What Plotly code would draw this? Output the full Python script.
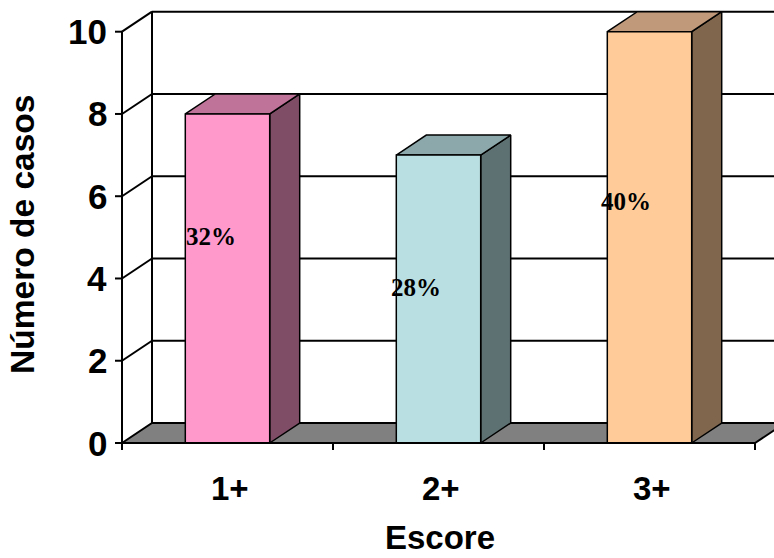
import plotly.graph_objects as go

# Data
categories = ["1+", "2+", "3+"]
casos = [8, 7, 10]
y_ticks = [0, 2, 4, 6, 8, 10]
front_colors = ["#FF99CC", "#BADFE2", "#FFCC99"]
top_colors = ["#C07399", "#8CA8AA", "#C0997A"]
side_colors = ["#7F4D66", "#5D7072", "#7F664D"]
# where each percentage label sits (x offset from bar left edge, y value)
pct_label_pos = [(0.12, 5.02), (0.093, 3.78), (0.089, 5.87)]

total = sum(casos)
pct_labels = [f"{round(100 * v / total)}%" for v in casos]

# 3-D projection: depth offset in axis units
DX = 30 / 211
DY = 20 / 41.13
BAR_W = 0.4
X_MAX = 652 / 211

SANS = "Liberation Sans, Arial, sans-serif"
SERIF = "Liberation Serif, Times New Roman, serif"

fig = go.Figure()


def poly(xs, ys, fill, width=1.5):
    fig.add_trace(go.Scatter(
        x=list(xs) + [xs[0]], y=list(ys) + [ys[0]],
        mode="lines", fill="toself", fillcolor=fill,
        line=dict(color="black", width=width),
        hoverinfo="skip", showlegend=False))


def seg(x0, y0, x1, y1, width=2):
    fig.add_trace(go.Scatter(
        x=[x0, x1], y=[y0, y1], mode="lines",
        line=dict(color="black", width=width),
        hoverinfo="skip", showlegend=False))


n = len(categories)

# floor
poly([0, n, n + DX, DX], [0, 0, DY, DY], "#808080", width=2)

# back wall gridlines and left edge
for v in y_ticks:
    seg(DX, v + DY, n + DX, v + DY)
seg(DX, DY, DX, y_ticks[-1] + DY)

# left wall diagonals
for v in y_ticks[1:]:
    seg(0, v, DX, v + DY)

# bars: side, top, front
for i, v in enumerate(casos):
    x0 = i + 0.5 - BAR_W / 2
    x1 = i + 0.5 + BAR_W / 2
    poly([x1, x1 + DX, x1 + DX, x1], [0, DY, v + DY, v], side_colors[i])
    poly([x0, x1, x1 + DX, x0 + DX], [v, v, v + DY, v + DY], top_colors[i])
    poly([x0, x1, x1, x0], [0, 0, v, v], front_colors[i])

# axes
seg(0, 0, 0, y_ticks[-1])
seg(0, 0, n, 0)
for v in y_ticks:
    seg(-7 / 211, v, 0, v)
for k in range(n + 1):
    seg(k, 0, k, -7 / 41.13)

annotations = []
for v in y_ticks:
    annotations.append(dict(x=0, y=v, xref="x", yref="y", text=f"<b>{v}</b>",
                            showarrow=False, xanchor="right", yanchor="middle",
                            xshift=-13, font=dict(family=SANS, size=35, color="black")))
for i, c in enumerate(categories):
    annotations.append(dict(x=i + 0.51, y=0, xref="x", yref="y", text=f"<b>{c}</b>",
                            showarrow=False, xanchor="center", yanchor="middle",
                            yshift=-45, font=dict(family=SANS, size=33, color="black")))
for i, lab in enumerate(pct_labels):
    ox, oy = pct_label_pos[i]
    annotations.append(dict(x=i + 0.5 - BAR_W / 2 + ox, y=oy, xref="x", yref="y",
                            text=f"<b>{lab}</b>", showarrow=False,
                            xanchor="center", yanchor="middle",
                            font=dict(family=SERIF, size=25, color="black")))
annotations.append(dict(x=1.507, y=0, xref="x", yref="y", text="<b>Escore</b>",
                        showarrow=False, xanchor="center", yanchor="middle",
                        yshift=-94, font=dict(family=SANS, size=33, color="black")))
annotations.append(dict(x=0, y=5.06, xref="x", yref="y", text="<b>Número de casos</b>",
                        showarrow=False, xanchor="center", yanchor="middle",
                        xshift=-99, textangle=-90,
                        font=dict(family=SANS, size=33.5, color="black")))

fig.update_layout(
    width=774, height=558,
    margin=dict(l=100, r=0, t=0, b=105),
    paper_bgcolor="white", plot_bgcolor="white",
    xaxis=dict(range=[-22 / 211, X_MAX], visible=False, fixedrange=True),
    yaxis=dict(range=[-10 / 41.13, 443 / 41.13], visible=False, fixedrange=True),
    annotations=annotations,
    showlegend=False,
)

fig.write_html("out.html")
